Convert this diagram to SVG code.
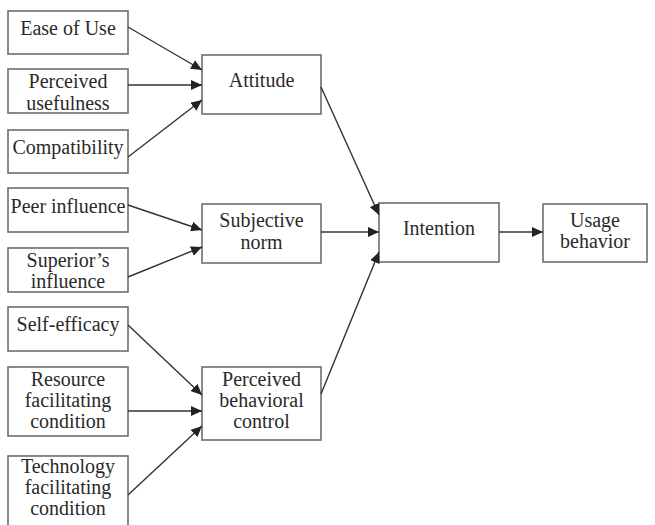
<svg xmlns="http://www.w3.org/2000/svg" width="655" height="525" viewBox="0 0 655 525">
<style>
.box{fill:#fff;stroke:#6e6e6e;stroke-width:1.6}
.t{font-family:"Liberation Serif","Times New Roman",serif;font-size:20px;fill:#2a2a2a;text-anchor:middle}
.c{stroke:#333;stroke-width:1.4;fill:none;marker-end:url(#ah)}
</style>
<defs>
<marker id="ah" markerUnits="userSpaceOnUse" markerWidth="12" markerHeight="10" refX="11" refY="5" orient="auto">
<path d="M0,0 L11,5 L0,10 Z" fill="#222"/>
</marker>
</defs>
<rect width="655" height="525" fill="#fff"/>
<g id="ease"><rect class="box" x="8" y="11" width="120" height="43"/><text class="t" x="68" y="35">Ease of Use</text></g>
<g id="useful"><rect class="box" x="8" y="69" width="120" height="44"/><text class="t" x="68" y="88">Perceived</text><text class="t" x="68" y="110">usefulness</text></g>
<g id="compat"><rect class="box" x="8" y="130" width="120" height="43"/><text class="t" x="68" y="154">Compatibility</text></g>
<g id="peer"><rect class="box" x="8" y="188" width="120" height="44"/><text class="t" x="68" y="213">Peer influence</text></g>
<g id="superior"><rect class="box" x="8" y="248" width="120" height="44"/><text class="t" x="68" y="267">Superior’s</text><text class="t" x="68" y="288">influence</text></g>
<g id="selfeff"><rect class="box" x="8" y="307" width="120" height="44"/><text class="t" x="68" y="331">Self-efficacy</text></g>
<g id="resource"><rect class="box" x="8" y="367" width="120" height="69"/><text class="t" x="68" y="386">Resource</text><text class="t" x="68" y="407">facilitating</text><text class="t" x="68" y="428">condition</text></g>
<g id="technology"><rect class="box" x="8" y="456" width="120" height="80"/><text class="t" x="68" y="473">Technology</text><text class="t" x="68" y="494">facilitating</text><text class="t" x="68" y="515">condition</text></g>
<g id="attitude"><rect class="box" x="202" y="55" width="119" height="59"/><text class="t" x="261.5" y="87">Attitude</text></g>
<g id="subjective"><rect class="box" x="202" y="204" width="119" height="59"/><text class="t" x="261.5" y="227">Subjective</text><text class="t" x="261.5" y="249">norm</text></g>
<g id="pbc"><rect class="box" x="202" y="367" width="119" height="73"/><text class="t" x="261.5" y="386">Perceived</text><text class="t" x="261.5" y="407">behavioral</text><text class="t" x="261.5" y="428">control</text></g>
<g id="intention"><rect class="box" x="379" y="203" width="120" height="59"/><text class="t" x="439" y="235">Intention</text></g>
<g id="usage"><rect class="box" x="543" y="204" width="104" height="58"/><text class="t" x="595" y="227">Usage</text><text class="t" x="595" y="248">behavior</text></g>
<g id="connectors">
<line class="c" x1="128" y1="27" x2="202" y2="70"/>
<line class="c" x1="128" y1="85" x2="202" y2="85"/>
<line class="c" x1="128" y1="157" x2="202" y2="100"/>
<line class="c" x1="128" y1="205" x2="202" y2="230"/>
<line class="c" x1="128" y1="277" x2="202" y2="247"/>
<line class="c" x1="128" y1="325" x2="202" y2="395"/>
<line class="c" x1="128" y1="411" x2="202" y2="411"/>
<line class="c" x1="128" y1="495" x2="202" y2="426"/>
<line class="c" x1="321" y1="87" x2="379" y2="215"/>
<line class="c" x1="321" y1="232" x2="379" y2="232"/>
<line class="c" x1="321" y1="394" x2="379" y2="252"/>
<line class="c" x1="499" y1="232" x2="543" y2="232"/>
</g>
</svg>
